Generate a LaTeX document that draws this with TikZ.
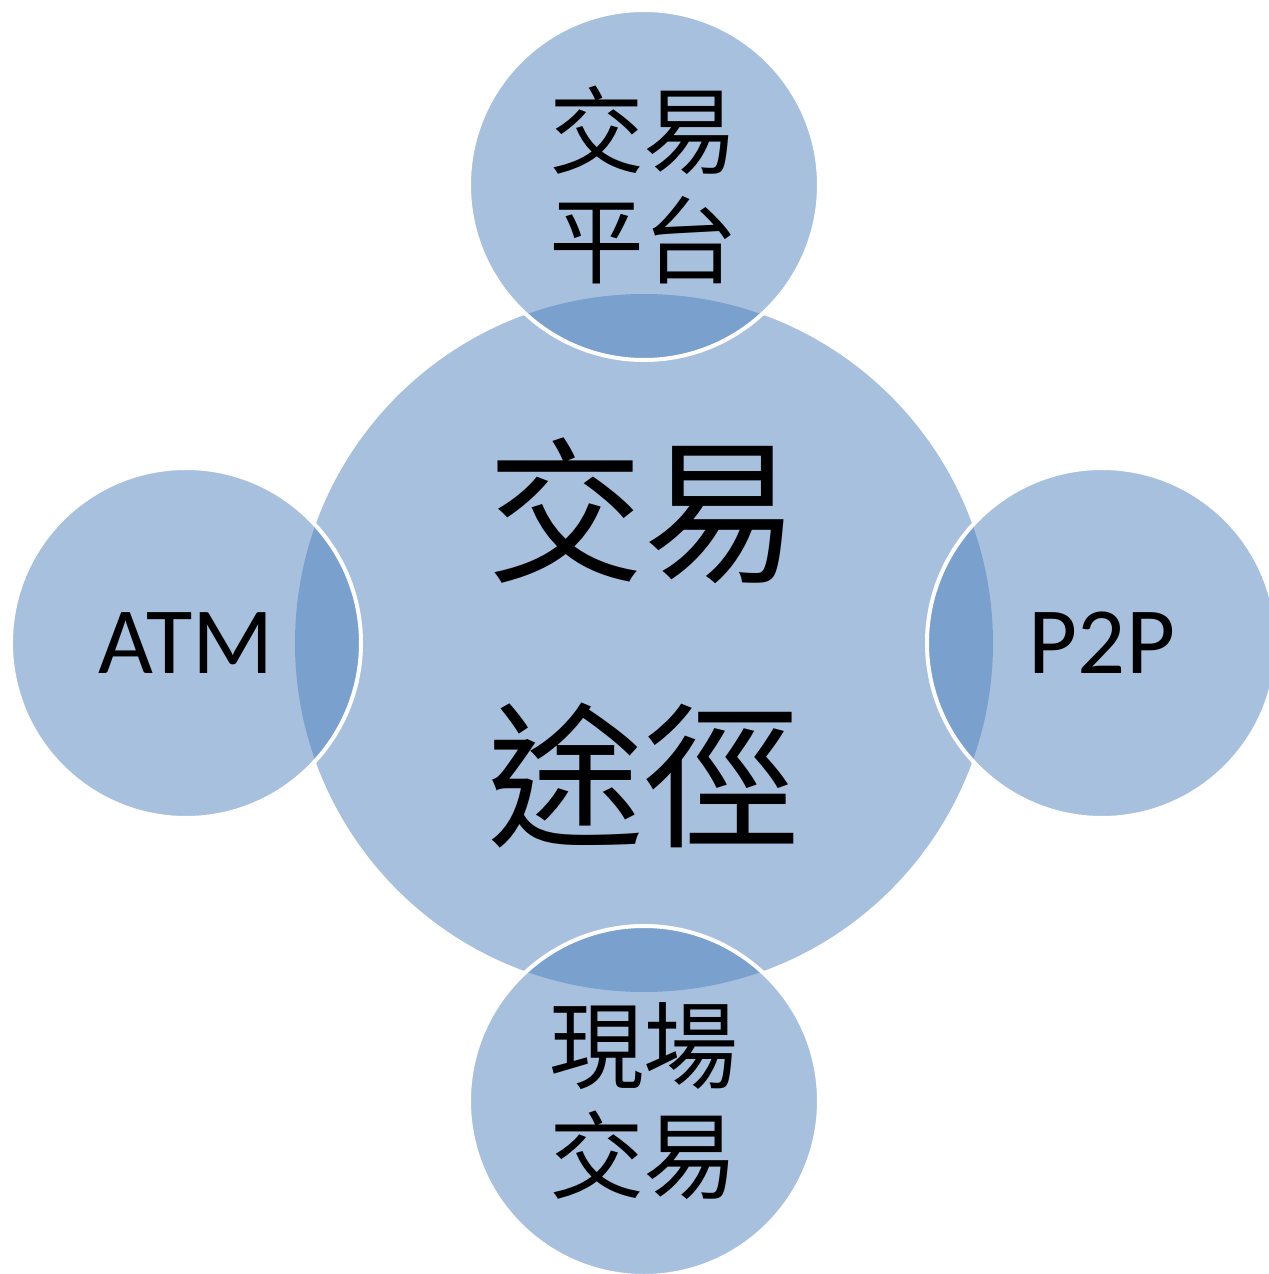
\documentclass[tikz,border=0pt]{standalone}
\usepackage{fontspec}
\newfontfamily\cjk{Noto Sans CJK TC}
\newfontfamily\latin{Carlito}
\usetikzlibrary{shapes,positioning}
\definecolor{routeblue}{HTML}{4F81BD}
\tikzstyle{hub} = [circle, fill=routeblue, fill opacity=0.5, text opacity=1, minimum size=13.96cm, inner sep=0pt]
\tikzstyle{spoke} = [circle, fill=routeblue, fill opacity=0.5, text opacity=1, draw=white, draw opacity=1, line width=0.08cm, minimum size=7cm, inner sep=0pt]
\tikzstyle{bigcjk} = [font=\cjk\fontsize{89}{151}\selectfont, align=center]
\tikzstyle{smallcjk} = [font=\cjk\fontsize{54}{63}\selectfont, align=center]
\tikzstyle{smalllatin} = [font=\latin\fontsize{54}{60}\selectfont]

\begin{document}
\begin{tikzpicture}
	\useasboundingbox (-12.88,-12.62) rectangle (12.48,12.86);

	\node [hub, bigcjk] (route) at (0,0) {交易\\途徑};

	\node [spoke, smallcjk] (platform) at (0,9.16) {交易\\平台};
	\node [spoke, smalllatin] (atm) at (-9.16,0) {ATM};
	\node [spoke, smalllatin] (ptp) at (9.16,0) {P2P};
	\node [spoke, smallcjk] (spot) at (0,-9.16) {現場\\交易};
\end{tikzpicture}
\end{document}
